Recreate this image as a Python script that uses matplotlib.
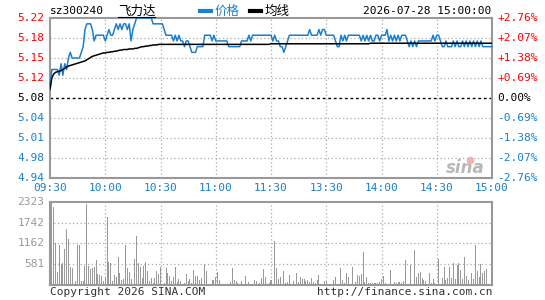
import numpy as np
import matplotlib
matplotlib.use("Agg")
import matplotlib.pyplot as plt

plt.rcParams['font.family'] = ['DejaVu Sans Mono', 'Noto Sans CJK SC']

# --- data (one value per minute, 09:30-11:30 + 13:00-15:00) ---
prev_close = 5.08
price = [
    5.10, 5.13, 5.13, 5.13, 5.13, 5.12, 5.14, 5.12, 5.14, 5.13,
    5.15, 5.16, 5.15, 5.15, 5.15, 5.15, 5.15, 5.16, 5.17, 5.20,
    5.21, 5.21, 5.21, 5.20, 5.18, 5.19, 5.19, 5.19, 5.19, 5.19,
    5.18, 5.19, 5.20, 5.19, 5.19, 5.20, 5.21, 5.20, 5.21, 5.20,
    5.21, 5.21, 5.20, 5.21, 5.18, 5.20, 5.21, 5.22, 5.22, 5.22,
    5.22, 5.22, 5.22, 5.22, 5.22, 5.22, 5.21, 5.21, 5.21, 5.21,
    5.21, 5.21, 5.20, 5.19, 5.19, 5.19, 5.19, 5.18, 5.19, 5.18,
    5.19, 5.18, 5.18, 5.17, 5.18, 5.18, 5.17, 5.16, 5.16, 5.16,
    5.17, 5.17, 5.17, 5.17, 5.19, 5.19, 5.19, 5.19, 5.18, 5.19,
    5.18, 5.18, 5.18, 5.18, 5.18, 5.18, 5.18, 5.17, 5.17, 5.17,
    5.17, 5.17, 5.17, 5.17, 5.18, 5.18, 5.18, 5.18, 5.19, 5.18,
    5.19, 5.19, 5.19, 5.19, 5.19, 5.19, 5.19, 5.19, 5.19, 5.19,
    5.19, 5.18, 5.19, 5.18, 5.18, 5.17, 5.17, 5.16, 5.17, 5.18,
    5.19, 5.19, 5.19, 5.19, 5.19, 5.19, 5.19, 5.19, 5.19, 5.19,
    5.19, 5.20, 5.19, 5.19, 5.19, 5.19, 5.20, 5.19, 5.20, 5.20,
    5.19, 5.19, 5.19, 5.19, 5.19, 5.18, 5.17, 5.17, 5.19, 5.18,
    5.19, 5.18, 5.19, 5.19, 5.19, 5.19, 5.19, 5.19, 5.19, 5.18,
    5.19, 5.18, 5.19, 5.18, 5.19, 5.18, 5.18, 5.19, 5.19, 5.18,
    5.19, 5.19, 5.19, 5.20, 5.18, 5.19, 5.18, 5.19, 5.18, 5.19,
    5.18, 5.19, 5.19, 5.19, 5.18, 5.17, 5.18, 5.17, 5.18, 5.17,
    5.18, 5.18, 5.18, 5.18, 5.18, 5.18, 5.18, 5.18, 5.19, 5.18,
    5.19, 5.19, 5.18, 5.17, 5.17, 5.18, 5.17, 5.17, 5.17, 5.18,
    5.17, 5.18, 5.17, 5.17, 5.18, 5.17, 5.18, 5.17, 5.18, 5.17,
    5.18, 5.17, 5.18, 5.17, 5.18, 5.17, 5.17, 5.17, 5.17, 5.17,
    5.17,
]
avg_price = [
    5.095, 5.115, 5.122, 5.125, 5.126, 5.127, 5.128, 5.130, 5.132, 5.134,
    5.136, 5.137, 5.138, 5.139, 5.140, 5.141, 5.142, 5.143, 5.144, 5.145,
    5.147, 5.149, 5.151, 5.153, 5.154, 5.155, 5.156, 5.157, 5.158, 5.159,
    5.159, 5.160, 5.160, 5.161, 5.161, 5.162, 5.162, 5.163, 5.164, 5.164,
    5.165, 5.165, 5.165, 5.166, 5.166, 5.166, 5.167, 5.167, 5.168, 5.169,
    5.170, 5.170, 5.171, 5.171, 5.172, 5.172, 5.173, 5.173, 5.173, 5.174,
    5.174, 5.174, 5.174, 5.174, 5.174, 5.174, 5.174, 5.174, 5.174, 5.174,
    5.174, 5.174, 5.174, 5.174, 5.174, 5.174, 5.174, 5.174, 5.174, 5.174,
    5.174, 5.174, 5.174, 5.174, 5.174, 5.174, 5.174, 5.174, 5.174, 5.174,
    5.174, 5.174, 5.174, 5.174, 5.174, 5.174, 5.174, 5.174, 5.174, 5.174,
    5.174, 5.174, 5.174, 5.174, 5.174, 5.174, 5.174, 5.174, 5.174, 5.174,
    5.174, 5.174, 5.174, 5.174, 5.174, 5.174, 5.174, 5.174, 5.174, 5.174,
    5.175, 5.175, 5.175, 5.175, 5.175, 5.175, 5.175, 5.175, 5.175, 5.175,
    5.175, 5.175, 5.175, 5.175, 5.175, 5.175, 5.175, 5.175, 5.175, 5.175,
    5.175, 5.175, 5.175, 5.175, 5.175, 5.175, 5.175, 5.175, 5.175, 5.175,
    5.175, 5.175, 5.175, 5.175, 5.175, 5.175, 5.175, 5.175, 5.175, 5.175,
    5.175, 5.175, 5.175, 5.175, 5.175, 5.175, 5.175, 5.175, 5.175, 5.175,
    5.175, 5.175, 5.175, 5.175, 5.176, 5.176, 5.176, 5.176, 5.176, 5.176,
    5.176, 5.176, 5.176, 5.176, 5.176, 5.176, 5.176, 5.176, 5.176, 5.176,
    5.176, 5.176, 5.176, 5.176, 5.176, 5.176, 5.176, 5.176, 5.176, 5.176,
    5.176, 5.176, 5.176, 5.176, 5.176, 5.176, 5.176, 5.176, 5.176, 5.176,
    5.176, 5.176, 5.176, 5.176, 5.176, 5.176, 5.176, 5.176, 5.176, 5.176,
    5.176, 5.176, 5.176, 5.176, 5.176, 5.176, 5.176, 5.176, 5.176, 5.176,
    5.176, 5.176, 5.176, 5.176, 5.176, 5.176, 5.176, 5.176, 5.176, 5.176,
    5.176,
]
volume = [
    2323, 2300, 2166, 1175, 370, 1110, 592, 620, 1009, 1564,
    1286, 509, 481, 40, 130, 1110, 1110, 111, 130, 528,
    2258, 528, 453, 481, 500, 712, 315, 296, 250, 111,
    222, 1906, 648, 620, 111, 278, 240, 777, 342, 157,
    185, 1110, 481, 370, 185, 40, 731, 1361, 620, 500,
    204, 528, 648, 407, 111, 204, 60, 204, 407, 315,
    500, 40, 65, 481, 342, 250, 130, 222, 509, 93,
    176, 111, 30, 65, 315, 130, 176, 65, 426, 250,
    250, 157, 204, 40, 592, 407, 37, 20, 148, 148,
    222, 370, 148, 46, 20, 37, 37, 20, 83, 481,
    148, 130, 65, 20, 120, 30, 259, 20, 93, 37,
    37, 148, 130, 30, 65, 204, 463, 222, 40, 60,
    150, 30, 1240, 472, 167, 222, 37, 398, 74, 93,
    287, 37, 120, 37, 342, 93, 222, 176, 176, 111,
    139, 93, 204, 102, 56, 148, 287, 30, 20, 111,
    111, 20, 37, 37, 148, 222, 37, 20, 472, 148,
    56, 352, 222, 30, 518, 46, 93, 287, 259, 315,
    935, 93, 222, 56, 74, 56, 56, 56, 56, 102,
    167, 259, 74, 20, 30, 426, 37, 102, 74, 83,
    83, 74, 130, 703, 37, 20, 555, 37, 981, 222,
    352, 370, 194, 148, 130, 30, 352, 74, 167, 74,
    20, 722, 37, 194, 500, 148, 194, 518, 194, 611,
    185, 564, 611, 426, 167, 777, 259, 148, 30, 352,
    167, 1120, 407, 222, 592, 352, 407, 444, 30, 30,
    30,
]
price_ticks = ["5.22", "5.18", "5.15", "5.12", "5.08", "5.04", "5.01", "4.98", "4.94"]
pct_ticks = ["+2.76%", "+2.07%", "+1.38%", "+0.69%", "0.00%",
             "-0.69%", "-1.38%", "-2.07%", "-2.76%"]
time_ticks = ["09:30", "10:00", "10:30", "11:00", "11:30",
              "13:30", "14:00", "14:30", "15:00"]
vol_ticks = [581, 1162, 1742, 2323]

BLUE = '#1a7fd0'
RED = '#ff0000'
GRAY = '#999999'
W, H = 545, 300

minutes = np.arange(len(price))
lo, hi = prev_close * (1 - 0.0276), prev_close * (1 + 0.0276)
levels = np.linspace(hi, lo, 9)

fig = plt.figure(figsize=(W / 100, H / 100), dpi=100)
ax = fig.add_axes([50 / W, 1 - 178 / H, 442 / W, 160 / H])
axv = fig.add_axes([50 / W, 1 - 285.3 / H, 442 / W, 83.6 / H])

for a in (ax, axv):
    for s in a.spines.values():
        s.set_color(GRAY)
        s.set_linewidth(1.5)
    a.tick_params(length=0)
    a.set_xlim(0, 240)
    a.set_xticks([])
    a.set_yticks([])
    for xg in range(30, 240, 30):
        a.axvline(xg, color='#aaaaaa', lw=0.9, ls=(0, (1, 2)), zorder=0)

# price panel
ax.set_ylim(lo, hi)
for i, lv in enumerate(levels):
    if i in (0, 8):
        continue
    if i == 4:
        ax.axhline(lv, color='black', lw=1, ls=(0, (2, 2)), zorder=1)
    else:
        ax.axhline(lv, color='#aaaaaa', lw=0.9, ls=(0, (1, 2)), zorder=0)
ax.plot(minutes, price, color=BLUE, lw=1.1, zorder=3, clip_on=False)
ax.plot(minutes, avg_price, color='black', lw=1.1, zorder=4)

for i, lv in enumerate(levels):
    c = RED if i < 4 else ('black' if i == 4 else BLUE)
    ax.text(-3, lv, price_ticks[i], color=c, fontsize=8, ha='right', va='center')
    ax.text(243, lv, pct_ticks[i], color=c, fontsize=8, ha='left', va='center')
for i, t in enumerate(time_ticks):
    ax.text(i * 30, lo - 0.0175, t, color=BLUE, fontsize=8, ha='center', va='center')

# sina watermark
ax.text(236, lo + 0.017, 'sina', color='#b8b8b8', fontsize=12, style='italic',
        weight='bold', ha='right', va='center', family='DejaVu Sans', zorder=1)
ax.scatter([228], [lo + 0.031], s=30, color='#f4b0b0', zorder=1, linewidths=0)

# volume panel
axv.set_ylim(0, 2323)
for v in vol_ticks[:-1]:
    axv.axhline(v, color='#aaaaaa', lw=0.9, ls=(0, (1, 2)), zorder=0)
axv.bar(minutes, volume, width=0.55, color=GRAY, zorder=2)
for v in vol_ticks:
    axv.text(-3, v, str(v), color=GRAY, fontsize=8, ha='right', va='center')

# header / footer
fig.text(50 / W, 1 - 11 / H, 'sz300240', fontsize=8, va='center', ha='left')
fig.text(118 / W, 1 - 11 / H, '飞力达', fontsize=9, va='center', ha='left',
         family=['Noto Sans CJK SC'])
fig.add_artist(plt.Line2D([118 / W, 155 / W], [1 - 17 / H, 1 - 17 / H], color='black', lw=0.8))
fig.add_artist(plt.Line2D([200 / W, 211 / W], [1 - 11 / H, 1 - 11 / H], color=BLUE, lw=3))
fig.text(215 / W, 1 - 11 / H, '价格', fontsize=9, color=BLUE, va='center', ha='left',
         family=['Noto Sans CJK SC'])
fig.add_artist(plt.Line2D([250 / W, 261 / W], [1 - 11 / H, 1 - 11 / H], color='black', lw=3))
fig.text(265 / W, 1 - 11 / H, '均线', fontsize=9, va='center', ha='left',
         family=['Noto Sans CJK SC'])
fig.text(491 / W, 1 - 11 / H, '2026-07-28 15:00:00', fontsize=8, va='center', ha='right')
fig.text(50 / W, 1 - 292 / H, 'Copyright 2026 SINA.COM', fontsize=8, color='#333333',
         va='center', ha='left')
fig.text(492 / W, 1 - 292 / H, 'http://finance.sina.com.cn', fontsize=8, color='#333333',
         va='center', ha='right')

fig.savefig('out.png', dpi=100)
